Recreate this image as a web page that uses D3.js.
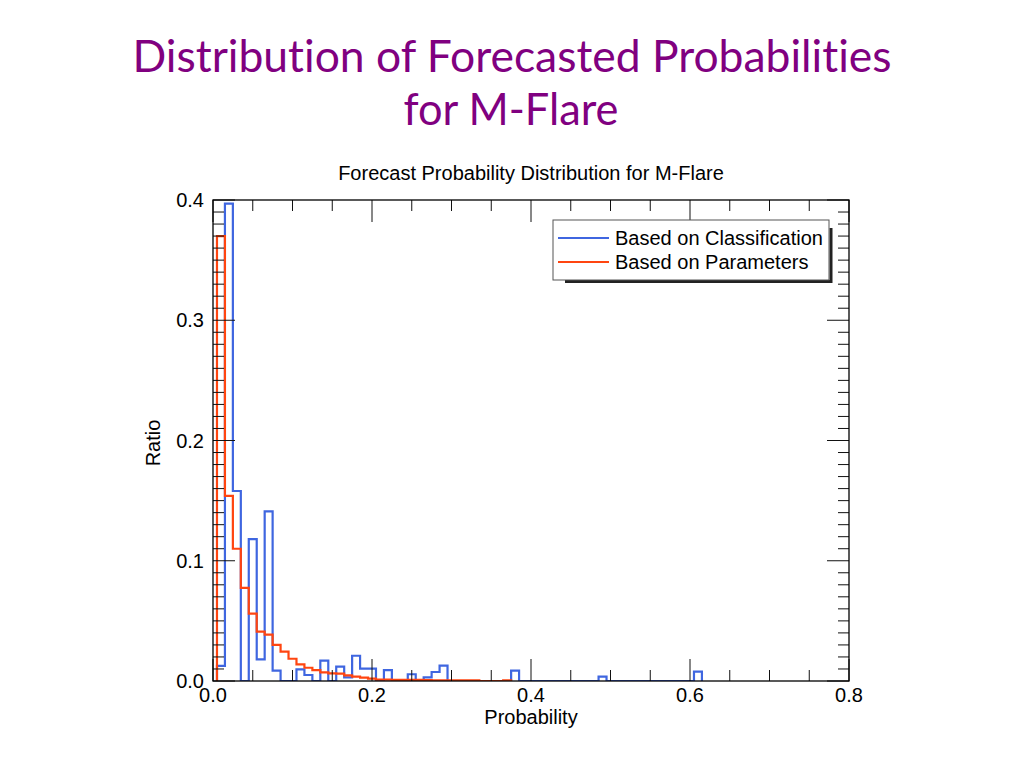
<!DOCTYPE html>
<html>
<head>
<meta charset="utf-8">
<script src="https://cdn.jsdelivr.net/npm/d3@7/dist/d3.min.js"></script>
<style>
  html, body { margin: 0; padding: 0; background: #fff; }
  svg { display: block; }
  .slide-title { font-variant-ligatures: none; font-feature-settings: "liga" 0, "dlig" 0; }
</style>
</head>
<body>
<svg id="chart" width="1024" height="768"></svg>
<script>
// ---- data ----
const binWidth = 0.01;
// bin centres 0.01, 0.02, ... for "Based on Classification"
const classificationCenters = d3.range(1, 62).map(i => +(i * 0.01).toFixed(2));
const classificationRatio = [
  0.0125, 0.397, 0.158, 0.0, 0.118, 0.018, 0.141, 0.0086, 0.0, 0.0,
  0.0097, 0.005, 0.0, 0.017, 0.0, 0.012, 0.003, 0.021, 0.0103, 0.0103,
  0.0, 0.009, 0.0, 0.0, 0.0056, 0.0, 0.003, 0.0075, 0.0128, 0.0,
  0.0, 0.0, 0.0, 0.0, 0.0, 0.0, 0.0, 0.0086, 0.0, 0.0,
  0.0, 0.0, 0.0, 0.0, 0.0, 0.0, 0.0, 0.0, 0.0036, 0.0,
  0.0, 0.0, 0.0, 0.0, 0.0, 0.0, 0.0, 0.0, 0.0, 0.0,
  0.0078
];
// bin centres 0.01 ... 0.37 for "Based on Parameters"
const parametersCenters = d3.range(1, 38).map(i => +(i * 0.01).toFixed(2));
const parametersRatio = [
  0.370, 0.154, 0.110, 0.0775, 0.056, 0.041, 0.0386, 0.030, 0.0244, 0.0185,
  0.0138, 0.011, 0.0091, 0.0071, 0.0064, 0.0062, 0.0047, 0.0036, 0.0028, 0.0019,
  0.0011, 0.0011, 0.0010, 0.0010, 0.0010, 0.0009, 0.0008, 0.0006, 0.0006, 0.0006,
  0.0006, 0.0006, 0.0006, 0.0, 0.0, 0.0, 0.0006
];
const seriesNames = ["Based on Classification", "Based on Parameters"];
const seriesColors = ["#3f66e0", "#ff4510"];
const xMajorTicks = [0.0, 0.2, 0.4, 0.6, 0.8];
const yMajorTicks = [0.0, 0.1, 0.2, 0.3, 0.4];
const titleLines = ["Distribution of Forecasted Probabilities", "for M-Flare"];
const chartTitle = "Forecast Probability Distribution for M-Flare";
const xLabel = "Probability";
const yLabel = "Ratio";

// ---- layout ----
const svg = d3.select("#chart");
const pL = 213, pR = 849, pT = 200, pB = 681;
const x = d3.scaleLinear().domain([0, 0.8]).range([pL, pR]);
const y = d3.scaleLinear().domain([0, 0.4]).range([pB, pT]);

// big slide title
svg.append("text").attr("class", "slide-title").attr("x", 512).attr("y", 72)
  .attr("text-anchor", "middle")
  .attr("font-family", "Lato, 'Open Sans', sans-serif")
  .attr("font-size", 44).attr("fill", "#800080")
  .attr("textLength", 759).attr("lengthAdjust", "spacingAndGlyphs")
  .text(titleLines[0]);
svg.append("text").attr("class", "slide-title").attr("x", 511).attr("y", 125)
  .attr("text-anchor", "middle")
  .attr("font-family", "Lato, 'Open Sans', sans-serif")
  .attr("font-size", 44).attr("fill", "#800080")
  .attr("textLength", 215).attr("lengthAdjust", "spacingAndGlyphs")
  .text(titleLines[1]);

const font = "'Liberation Sans', Arial, Helvetica, sans-serif";
const fs = 20;

// chart title
svg.append("text").attr("x", 531).attr("y", 180)
  .attr("text-anchor", "middle").attr("font-family", font)
  .attr("font-size", fs).attr("fill", "#000")
  .text(chartTitle);

// clip for histogram
svg.append("clipPath").attr("id", "plotclip")
  .append("rect").attr("x", pL).attr("y", pT - 2)
  .attr("width", pR - pL).attr("height", pB - pT + 2);

function stepPoints(centers, values) {
  const pts = [];
  pts.push([centers[0] - binWidth / 2, 0]);
  centers.forEach((c, i) => {
    pts.push([c - binWidth / 2, values[i]]);
    pts.push([c + binWidth / 2, values[i]]);
  });
  pts.push([centers[centers.length - 1] + binWidth / 2, 0]);
  return pts;
}
const line = d3.line().x(d => x(d[0])).y(d => y(d[1]));

const plot = svg.append("g").attr("clip-path", "url(#plotclip)");
plot.append("path")
  .attr("d", line(stepPoints(classificationCenters, classificationRatio)))
  .attr("fill", "none").attr("stroke", seriesColors[0]).attr("stroke-width", 2.2);
plot.append("path")
  .attr("d", line(stepPoints(parametersCenters, parametersRatio)))
  .attr("fill", "none").attr("stroke", seriesColors[1]).attr("stroke-width", 2.2);

// ---- axes / ticks ----
const tickColor = "#111";
const axesG = svg.append("g").attr("stroke", tickColor).attr("stroke-width", 1);
const xMinor = d3.range(0, 17).map(i => +(i * 0.05).toFixed(2));
const yMinor = d3.range(0, 41).map(i => +(i * 0.01).toFixed(2));
const isXMajor = v => Math.abs(v / 0.2 - Math.round(v / 0.2)) < 1e-6;
const isYMajor = v => Math.abs(v / 0.1 - Math.round(v / 0.1)) < 1e-6;

xMinor.forEach(v => {
  const L = isXMajor(v) ? 22 : 11;
  axesG.append("line").attr("x1", x(v)).attr("x2", x(v)).attr("y1", pB).attr("y2", pB - L);
  axesG.append("line").attr("x1", x(v)).attr("x2", x(v)).attr("y1", pT).attr("y2", pT + L);
});
yMinor.forEach(v => {
  const L = isYMajor(v) ? 22 : 11;
  axesG.append("line").attr("x1", pL).attr("x2", pL + L).attr("y1", y(v)).attr("y2", y(v));
  axesG.append("line").attr("x1", pR).attr("x2", pR - L).attr("y1", y(v)).attr("y2", y(v));
});
svg.append("rect").attr("x", pL).attr("y", pT)
  .attr("width", pR - pL).attr("height", pB - pT)
  .attr("fill", "none").attr("stroke", "#000").attr("stroke-width", 1.3);

// tick labels
svg.append("g").selectAll("text").data(xMajorTicks).join("text")
  .attr("x", d => x(d)).attr("y", 702)
  .attr("text-anchor", "middle").attr("font-family", font).attr("font-size", fs)
  .text(d => d3.format(".1f")(d));
svg.append("g").selectAll("text").data(yMajorTicks).join("text")
  .attr("x", 204).attr("y", d => y(d) + 7)
  .attr("text-anchor", "end").attr("font-family", font).attr("font-size", fs)
  .text(d => d3.format(".1f")(d));

// axis titles
svg.append("text").attr("x", 531).attr("y", 724)
  .attr("text-anchor", "middle").attr("font-family", font).attr("font-size", fs)
  .text(xLabel);
svg.append("text")
  .attr("transform", "translate(160,443) rotate(-90)")
  .attr("text-anchor", "middle").attr("font-family", font).attr("font-size", fs)
  .text(yLabel);

// ---- legend ----
const lg = svg.append("g");
const lx = 553, ly = 220, lw = 276, lh = 60;
lg.append("path")
  .attr("d", `M${lx + 12},${ly + lh + 1.5} H${lx + lw + 2} V${ly + 8}`)
  .attr("fill", "none").attr("stroke", "#222").attr("stroke-width", 3);
lg.append("rect").attr("x", lx).attr("y", ly).attr("width", lw).attr("height", lh)
  .attr("fill", "#fff").attr("stroke", "#555").attr("stroke-width", 1);
seriesNames.forEach((name, i) => {
  const yy = ly + 18 + i * 24;
  lg.append("line").attr("x1", lx + 5).attr("x2", lx + 56).attr("y1", yy).attr("y2", yy)
    .attr("stroke", seriesColors[i]).attr("stroke-width", 2);
  lg.append("text").attr("x", lx + 62).attr("y", yy + 7)
    .attr("font-family", font).attr("font-size", fs).attr("fill", "#000")
    .text(name);
});
</script>
</body>
</html>
